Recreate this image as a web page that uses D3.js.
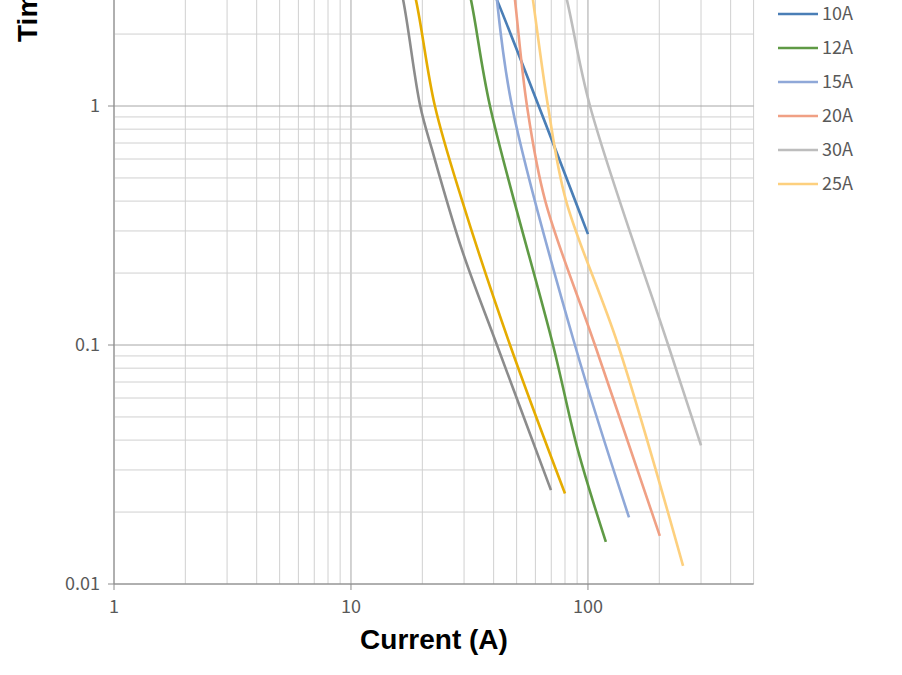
<!DOCTYPE html>
<html><head><meta charset="utf-8">
<script src="https://cdn.jsdelivr.net/npm/d3@7"></script>
<style>body{margin:0;background:#fff}svg{display:block}</style>
</head><body><svg id="c" width="902" height="675"></svg>
<script>
const seriesNames = ["6A","8A","10A","12A","15A","20A","30A","25A"];
const seriesColors = ["#8c8c8c","#e5ac00","#4a7eb6","#5f9a45","#8fa8d8","#f0a084","#bdbdbd","#fdd07e"];
const s6A  = [[14.5,5],[16.6,2.78],[19.6,1],[22,0.655],[29.4,0.25],[41.3,0.1],[69.8,0.0247]];
const s8A  = [[16.2,5],[18.8,2.78],[22.6,1],[29.4,0.404],[46.9,0.1],[80,0.0239]];
const s10A = [[32,5],[41.3,2.78],[100,0.291]];
const s12A = [[28,5],[32.1,2.78],[38.6,1],[71.2,0.1],[90.7,0.0363],[119,0.015]];
const s15A = [[39.5,5],[41.3,2.78],[47.8,1],[88.1,0.1],[149,0.019]];
const s20A = [[46,5],[49.2,2.78],[55.3,1],[65.9,0.404],[107,0.1],[201,0.0159]];
const s30A = [[70,5],[81.5,2.78],[102,1],[218,0.1],[300,0.038]];
const s25A = [[54,5],[58.6,2.78],[67.8,1],[80.7,0.404],[134,0.1],[252,0.0119]];
const seriesData = [s6A,s8A,s10A,s12A,s15A,s20A,s30A,s25A];
const xTicks = [1,10,100];
const yTicks = [0.01,0.1,1];

const svg = d3.select("#c");
const x = d3.scaleLog().domain([1,500]).range([114,753.6]);
const y = d3.scaleLog().domain([0.01,1]).range([584,106]);
const yTop = -200;
const g = svg.append("g");
const xs=[]; for (let d=1; d<=100; d*=10) for (let k=1;k<=9;k++){ if(d*k<=500) xs.push(d*k);} 
const ys=[]; for (let d=0.01; d<=10; d*=10) for (let k=1;k<=9;k++) ys.push(+(d*k).toPrecision(3));
g.selectAll(".gx").data(xs).join("line").attr("x1",d=>x(d)).attr("x2",d=>x(d)).attr("y1",yTop).attr("y2",584)
 .attr("stroke",d=>xTicks.includes(d)?"#a6a6a6":"#d0d0d0").attr("stroke-width",1);
g.selectAll(".gy").data(ys).join("line").attr("x1",114).attr("x2",753.6).attr("y1",d=>y(d)).attr("y2",d=>y(d))
 .attr("stroke",d=>yTicks.includes(d)?"#a6a6a6":"#d0d0d0").attr("stroke-width",1);
g.append("line").attr("x1",114).attr("x2",753.6).attr("y1",584).attr("y2",584).attr("stroke","#8c8c8c");
g.append("line").attr("x1",114).attr("x2",114).attr("y1",yTop).attr("y2",584).attr("stroke","#8c8c8c");
g.selectAll(".tx").data(xTicks).join("line").attr("x1",d=>x(d)).attr("x2",d=>x(d)).attr("y1",584).attr("y2",590).attr("stroke","#8c8c8c");
g.selectAll(".ty").data(yTicks).join("line").attr("x1",108).attr("x2",114).attr("y1",d=>y(d)).attr("y2",d=>y(d)).attr("stroke","#8c8c8c");
const tf="'Noto Sans CJK SC','Noto Sans',sans-serif";
g.selectAll(".lx").data(xTicks).join("text").attr("x",d=>x(d)).attr("y",613).attr("text-anchor","middle")
 .attr("font-family",tf).attr("font-size",18).attr("fill","#595959").text(d=>d);
g.selectAll(".ly").data(yTicks).join("text").attr("x",100).attr("y",d=>y(d)+6).attr("text-anchor","end")
 .attr("font-family",tf).attr("font-size",18).attr("fill","#595959").text(d=>d);
const line = d3.line().x(d=>x(d[0])).y(d=>y(d[1])).curve(d3.curveCatmullRom.alpha(0.5));
seriesData.forEach((s,i)=>{
  g.append("path").attr("d",line(s)).attr("fill","none").attr("stroke",seriesColors[i]).attr("stroke-width",2.6);
});
svg.append("text").attr("x",434).attr("y",649).attr("text-anchor","middle").attr("font-family","'Liberation Sans',Arial,sans-serif")
 .attr("font-weight","bold").attr("font-size",28).attr("fill","#000").text("Current (A)");
svg.append("text").attr("transform","translate(37,42) rotate(-90)").attr("text-anchor","start").attr("font-family","'Liberation Sans',Arial,sans-serif")
 .attr("font-weight","bold").attr("font-size",28).attr("fill","#000").text("Time (s)");
const lg = svg.append("g");
seriesNames.forEach((n,i)=>{
  const yy = 14 + (i-2)*34;
  lg.append("line").attr("x1",778).attr("x2",818).attr("y1",yy).attr("y2",yy).attr("stroke",seriesColors[i]).attr("stroke-width",2.6);
  lg.append("text").attr("x",822).attr("y",yy+6).attr("font-family",tf).attr("font-size",18).attr("fill","#595959").text(n);
});
</script></body></html>
